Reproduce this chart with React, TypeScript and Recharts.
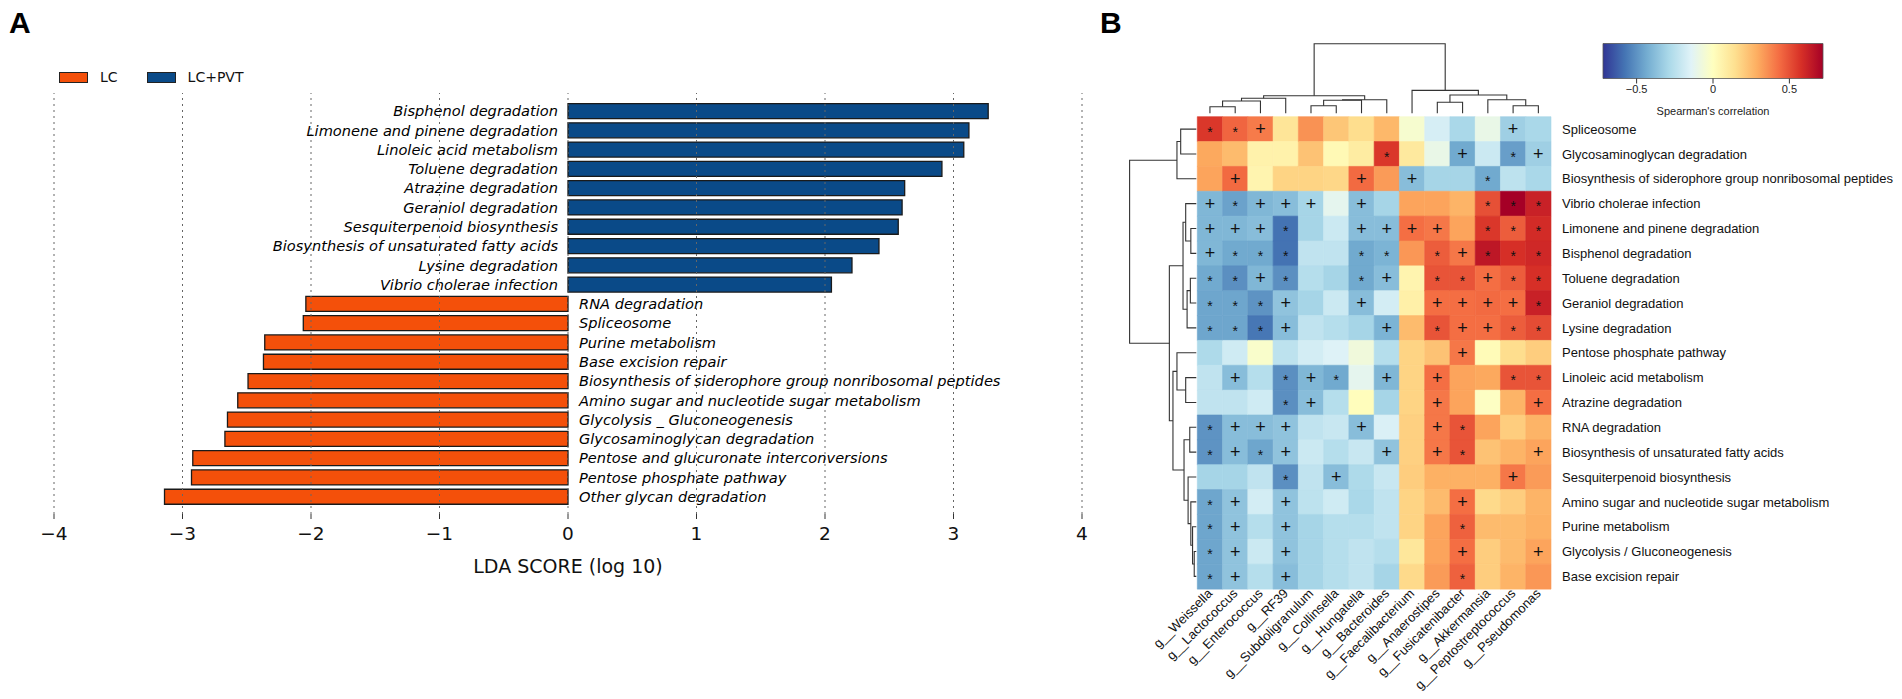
import React from "react";
import {
  BarChart,
  Bar,
  XAxis,
  YAxis,
  Cell,
  LabelList,
  ReferenceLine,
  Legend,
  ScatterChart,
  Scatter,
} from "recharts";

// ---------- panel A: LDA scores ----------
const ldaNames = [
  "Bisphenol degradation",
  "Limonene and pinene degradation",
  "Linoleic acid metabolism",
  "Toluene degradation",
  "Atrazine degradation",
  "Geraniol degradation",
  "Sesquiterpenoid biosynthesis",
  "Biosynthesis of unsaturated fatty acids",
  "Lysine degradation",
  "Vibrio cholerae infection",
  "RNA degradation",
  "Spliceosome",
  "Purine metabolism",
  "Base excision repair",
  "Biosynthesis of siderophore group nonribosomal peptides",
  "Amino sugar and nucleotide sugar metabolism",
  "Glycolysis _ Gluconeogenesis",
  "Glycosaminoglycan degradation",
  "Pentose and glucuronate interconversions",
  "Pentose phosphate pathway",
  "Other glycan degradation",
];
const ldaScores = [
  3.27, 3.12, 3.08, 2.91, 2.62, 2.6, 2.57, 2.42, 2.21, 2.05, -2.04, -2.06, -2.36,
  -2.37, -2.49, -2.57, -2.65, -2.67, -2.92, -2.93, -3.14,
];
const ldaTicks = [-4, -3, -2, -1, 0, 1, 2, 3, 4];
const groupNames = ["LC", "LC+PVT"];
const groupColors = ["#f4500a", "#0a4a88"];

// ---------- panel B: correlation heatmap ----------
const genera = [
  "g__Weissella",
  "g__Lactococcus",
  "g__Enterococcus",
  "g__RF39",
  "g__Subdoligranulum",
  "g__Collinsella",
  "g__Hungatella",
  "g__Bacteroides",
  "g__Faecalibacterium",
  "g__Anaerostipes",
  "g__Fusicatenibacter",
  "g__Akkermansia",
  "g__Peptostreptococcus",
  "g__Pseudomonas",
];
const pathways = [
  "Spliceosome",
  "Glycosaminoglycan degradation",
  "Biosynthesis of siderophore group nonribosomal peptides",
  "Vibrio cholerae infection",
  "Limonene and pinene degradation",
  "Bisphenol degradation",
  "Toluene degradation",
  "Geraniol degradation",
  "Lysine degradation",
  "Pentose phosphate pathway",
  "Linoleic acid metabolism",
  "Atrazine degradation",
  "RNA degradation",
  "Biosynthesis of unsaturated fatty acids",
  "Sesquiterpenoid biosynthesis",
  "Amino sugar and nucleotide sugar metabolism",
  "Purine metabolism",
  "Glycolysis / Gluconeogenesis",
  "Base excision repair",
];
const corr = [
  [0.56, 0.45, 0.4, 0.12, 0.35, 0.22, 0.15, 0.26, -0.04, -0.17, -0.29, -0.1, -0.32, -0.29],
  [0.3, 0.25, 0.06, 0.06, 0.23, 0.03, 0.09, 0.56, 0.1, -0.1, -0.44, -0.2, -0.47, -0.32],
  [0.31, 0.44, 0.05, 0.18, 0.18, 0.17, 0.44, 0.33, -0.38, -0.3, -0.3, -0.44, -0.24, -0.29],
  [-0.4, -0.46, -0.4, -0.38, -0.3, -0.12, -0.38, -0.3, 0.31, 0.31, 0.27, 0.5, 0.72, 0.62],
  [-0.4, -0.4, -0.38, -0.58, -0.3, -0.2, -0.38, -0.38, 0.43, 0.41, 0.31, 0.56, 0.47, 0.59],
  [-0.4, -0.44, -0.44, -0.58, -0.23, -0.23, -0.44, -0.41, 0.34, 0.47, 0.41, 0.65, 0.58, 0.6],
  [-0.44, -0.51, -0.4, -0.51, -0.26, -0.3, -0.44, -0.38, 0.05, 0.49, 0.49, 0.43, 0.47, 0.58],
  [-0.45, -0.45, -0.5, -0.36, -0.3, -0.2, -0.38, -0.18, 0.07, 0.43, 0.43, 0.44, 0.43, 0.62],
  [-0.45, -0.45, -0.57, -0.38, -0.23, -0.26, -0.3, -0.41, 0.25, 0.49, 0.43, 0.43, 0.47, 0.51],
  [-0.28, -0.19, -0.03, -0.24, -0.18, -0.15, -0.07, -0.26, 0.18, 0.23, 0.41, 0.02, 0.15, 0.2],
  [-0.23, -0.38, -0.26, -0.51, -0.4, -0.44, -0.12, -0.4, 0.18, 0.43, 0.31, 0.3, 0.49, 0.49],
  [-0.23, -0.23, -0.19, -0.51, -0.38, -0.26, 0.01, -0.3, 0.18, 0.41, 0.31, -0.01, 0.27, 0.43],
  [-0.5, -0.38, -0.38, -0.36, -0.23, -0.21, -0.38, -0.16, 0.19, 0.41, 0.49, 0.31, 0.2, 0.27],
  [-0.5, -0.38, -0.45, -0.36, -0.2, -0.26, -0.21, -0.36, 0.19, 0.41, 0.49, 0.23, 0.27, 0.31],
  [-0.3, -0.3, -0.23, -0.51, -0.23, -0.38, -0.28, -0.21, 0.2, 0.28, 0.28, 0.28, 0.41, 0.33],
  [-0.45, -0.36, -0.18, -0.36, -0.24, -0.19, -0.29, -0.23, 0.18, 0.25, 0.43, 0.16, 0.2, 0.27],
  [-0.45, -0.36, -0.26, -0.36, -0.3, -0.26, -0.26, -0.23, 0.18, 0.31, 0.46, 0.25, 0.25, 0.28],
  [-0.45, -0.36, -0.2, -0.36, -0.3, -0.26, -0.23, -0.26, 0.11, 0.31, 0.43, 0.2, 0.25, 0.31],
  [-0.45, -0.36, -0.26, -0.38, -0.3, -0.26, -0.23, -0.3, 0.16, 0.33, 0.46, 0.2, 0.27, 0.34],
];
// one character per genus: "*" significant, "+" trend, "." none
const sig = [
  "**+.........+.",
  ".......*..+.*+",
  ".+....+.+..*..",
  "+*+++.+....***",
  "+++*..++++.***",
  "+***..**.*+***",
  "**+*..*+.**+**",
  "***+..+..++++*",
  "***+...+.*++**",
  "..........+...",
  ".+.*+*.+.+..**",
  "...*+....+...+",
  "*+++..+..+*...",
  "*+*+...+.+*..+",
  "...*.+......+.",
  "*+.+......+...",
  "*+.+......*...",
  "*+.+......+..+",
  "*+.+......*...",
];
const corrLimit = 0.72;
const cbTicks = [-0.5, 0, 0.5];
const palette = [
  "#313695", "#4575b4", "#74add1", "#abd9e9", "#e0f3f8", "#ffffbf",
  "#fee090", "#fdae61", "#f46d43", "#d73027", "#a50026",
];

type Tree = number | { h: number; c: [Tree, Tree] };

const colTree: Tree = {
  h: 1,
  c: [
    {
      h: 0.253,
      c: [
        { h: 0.216, c: [{ h: 0.177, c: [{ h: 0.095, c: [0, 1] }, 2] }, 3] },
        { h: 0.195, c: [{ h: 0.187, c: [{ h: 0.109, c: [4, 5] }, 6] }, 7] },
      ],
    },
    {
      h: 0.33,
      c: [
        8,
        {
          h: 0.263,
          c: [
            { h: 0.158, c: [9, 10] },
            { h: 0.195, c: [11, { h: 0.109, c: [12, 13] }] },
          ],
        },
      ],
    },
  ],
};

const rowTree: Tree = {
  h: 1,
  c: [
    { h: 0.29, c: [{ h: 0.234, c: [0, 1] }, 2] },
    {
      h: 0.404,
      c: [
        {
          h: 0.199,
          c: [
            { h: 0.159, c: [3, { h: 0.082, c: [4, 5] }] },
            { h: 0.138, c: [{ h: 0.089, c: [6, 7] }, 8] },
          ],
        },
        {
          h: 0.35,
          c: [
            { h: 0.29, c: [9, { h: 0.159, c: [10, 11] }] },
            {
              h: 0.184,
              c: [
                { h: 0.098, c: [12, 13] },
                {
                  h: 0.123,
                  c: [14, { h: 0.082, c: [15, { h: 0.056, c: [16, { h: 0.031, c: [17, 18] }] }] }],
                },
              ],
            },
          ],
        },
      ],
    },
  ],
};

type Pt = { p: number; h: number };
function branches(t: Tree, out: Pt[][]): Pt {
  if (typeof t === "number") return { p: t + 0.5, h: 0 };
  const a = branches(t.c[0], out);
  const b = branches(t.c[1], out);
  out.push([a, { p: a.p, h: t.h }, { p: b.p, h: t.h }, b]);
  return { p: (a.p + b.p) / 2, h: t.h };
}

const colBranches: Pt[][] = [];
branches(colTree, colBranches);
const rowBranches: Pt[][] = [];
branches(rowTree, rowBranches);

function hexToRgb(h: string) {
  const n = parseInt(h.slice(1), 16);
  return [(n >> 16) & 255, (n >> 8) & 255, n & 255];
}
function corrColor(v: number) {
  const t = Math.max(0, Math.min(1, (v + corrLimit) / (2 * corrLimit))) * (palette.length - 1);
  const i = Math.min(palette.length - 2, Math.floor(t));
  const f = t - i;
  const a = hexToRgb(palette[i]);
  const b = hexToRgb(palette[i + 1]);
  const c = a.map((x, k) => Math.round(x + (b[k] - x) * f));
  return `rgb(${c[0]},${c[1]},${c[2]})`;
}

const fmtNum = (v: number) => (v < 0 ? "\u2212" + Math.abs(v) : String(v));

const ldaData = ldaNames.map((name, i) => ({ name, score: ldaScores[i] }));

const hmData = pathways.map((name, i) => {
  const row: Record<string, string | number> = { name };
  genera.forEach((_, j) => {
    row[`c${j}`] = 1;
    row[`s${j}`] = sig[i][j];
  });
  return row;
});

const LdaLegend = () => (
  <div style={{ display: "flex", alignItems: "center", fontFamily: "DejaVu Sans", fontSize: 14, color: "#111" }}>
    {groupNames.map((g, i) => (
      <div key={g} style={{ display: "flex", alignItems: "center", marginRight: 29 }}>
        <span
          style={{
            display: "inline-block",
            width: 27,
            height: 9,
            background: groupColors[i],
            border: "1px solid #222",
            marginRight: 12,
          }}
        />
        <span>{g}</span>
      </div>
    ))}
  </div>
);

const LdaLabel = (props: any) => {
  const { x, y, width, height, value } = props;
  const i = ldaNames.indexOf(value);
  const s = ldaScores[i];
  const bx = Number(x);
  const bw = Number(width);
  let zero: number;
  if (s > 0) zero = bw >= 0 ? bx : bx + bw;
  else zero = bw >= 0 ? bx + bw : bx;
  const cy = Number(y) + Number(height) / 2;
  return (
    <text
      x={s > 0 ? zero - 10 : zero + 11}
      y={cy}
      dy="0.36em"
      textAnchor={s > 0 ? "end" : "start"}
      fontFamily="DejaVu Sans"
      fontStyle="italic"
      fontSize={14.6}
      fill="#000"
    >
      {value}
    </text>
  );
};

const SigLabel = (props: any) => {
  const { x, y, width, height, value } = props;
  if (!value || value === ".") return null;
  const cx = Number(x) + Number(width) / 2;
  const cy = Number(y) + Number(height) / 2;
  const plus = value === "+";
  return (
    <text
      x={cx}
      y={cy + (plus ? 6 : 7.5)}
      textAnchor="middle"
      fontFamily="Liberation Sans"
      fontSize={plus ? 18 : 14}
      fill="#111"
    >
      {value}
    </text>
  );
};

const GenusTick = (props: any) => {
  const { x, y, payload } = props;
  const name = genera[Math.round(payload.value - 0.5)];
  return (
    <text
      x={x}
      y={y}
      dy="0.35em"
      transform={`rotate(-45 ${x} ${y})`}
      textAnchor="end"
      fontFamily="Liberation Sans"
      fontSize={13}
      fill="#111"
    >
      {name}
    </text>
  );
};

const PathwayTick = (props: any) => {
  const { x, y, payload } = props;
  return (
    <text x={x} y={y} dy="0.35em" textAnchor="start" fontFamily="Liberation Sans" fontSize={13} fill="#111">
      {payload.value}
    </text>
  );
};

const lineStyle = { stroke: "#333", strokeWidth: 1.1 };

export default function App() {
  return (
    <div style={{ position: "absolute", left: 0, top: 0, width: 1902, height: 699, background: "#fff", overflow: "hidden" }}>
      <div style={{ position: "absolute", left: 9, top: 6, fontFamily: "Liberation Sans", fontWeight: "bold", fontSize: 30 }}>A</div>
      <div style={{ position: "absolute", left: 1100, top: 6, fontFamily: "Liberation Sans", fontWeight: "bold", fontSize: 30 }}>B</div>

      <div style={{ position: "absolute", left: 0, top: 0 }}>
        <BarChart
          layout="vertical"
          width={1100}
          height={590}
          data={ldaData}
          margin={{ top: 93, right: 18, bottom: 10, left: 54 }}
          barCategoryGap="10%"
        >
          <XAxis
            type="number"
            domain={[-4, 4]}
            ticks={ldaTicks}
            tickFormatter={fmtNum}
            axisLine={false}
            tickSize={5}
            tickMargin={8}
            height={66}
            tick={{ fontSize: 18.5, fontFamily: "DejaVu Sans", fill: "#111" }}
            tickLine={{ stroke: "#333" }}
            label={{
              value: "LDA SCORE (log 10)",
              position: "insideBottom",
              offset: 7,
              fontSize: 19,
              fontFamily: "DejaVu Sans",
              fill: "#111",
            }}
          />
          <XAxis
            xAxisId="top"
            orientation="top"
            type="number"
            domain={[-4, 4]}
            ticks={ldaTicks}
            tickFormatter={() => ""}
            axisLine={false}
            mirror
            tickSize={4}
            height={0}
            tickLine={{ stroke: "#333" }}
          />
          <YAxis type="category" dataKey="name" hide padding={{ top: 8.6, bottom: 7.4 }} />
          <Legend
            layout="horizontal"
            verticalAlign="middle"
            align="center"
            wrapperStyle={{ top: 69, left: 59, width: "auto" }}
            content={() => <LdaLegend />}
          />
          <Bar dataKey="score" stroke="#1a1a1a" strokeWidth={1.3} isAnimationActive={false}>
            {ldaData.map((d) => (
              <Cell key={d.name} fill={d.score > 0 ? groupColors[1] : groupColors[0]} />
            ))}
            <LabelList dataKey="name" content={LdaLabel} />
          </Bar>
          {ldaTicks.map((t) => (
            <ReferenceLine key={t} x={t} stroke="#666" strokeDasharray="2 4" strokeWidth={1} />
          ))}
        </BarChart>
      </div>

      <div style={{ position: "absolute", left: 1100, top: 0 }}>
        <ScatterChart width={110} height={699} margin={{ top: 116.7, right: 13.7, bottom: 110.2, left: 29.6 }}>
          <XAxis type="number" dataKey="x" domain={[0, 1]} reversed hide />
          <YAxis type="number" dataKey="y" domain={[0, 19]} reversed hide />
          {rowBranches.map((b, k) => (
            <Scatter
              key={k}
              data={b.map((q) => ({ x: q.h, y: q.p }))}
              line={lineStyle}
              shape={() => null}
              isAnimationActive={false}
            />
          ))}
        </ScatterChart>
      </div>

      <div style={{ position: "absolute", left: 1100, top: 0 }}>
        <ScatterChart width={802} height={120} margin={{ top: 43.7, right: 351, bottom: 6.7, left: 97.3 }}>
          <XAxis type="number" dataKey="x" domain={[0, 14]} hide />
          <YAxis type="number" dataKey="y" domain={[0, 1]} hide />
          {colBranches.map((b, k) => (
            <Scatter
              key={k}
              data={b.map((q) => ({ x: q.p, y: q.h }))}
              line={lineStyle}
              shape={() => null}
              isAnimationActive={false}
            />
          ))}
        </ScatterChart>
      </div>

      <div style={{ position: "absolute", left: 1100, top: 0 }}>
        <BarChart
          layout="vertical"
          width={802}
          height={699}
          data={hmData}
          margin={{ top: 116.7, right: 6, bottom: 5, left: 97.3 }}
          barCategoryGap={0}
          barGap={0}
        >
          <XAxis
            type="number"
            domain={[0, 14]}
            ticks={genera.map((_, j) => j + 0.5)}
            interval={0}
            tick={<GenusTick />}
            tickLine={false}
            axisLine={false}
            tickSize={0}
            tickMargin={2}
            height={105}
          />
          <YAxis
            type="category"
            dataKey="name"
            orientation="right"
            width={345}
            interval={0}
            tickLine={false}
            axisLine={false}
            tickSize={0}
            tickMargin={11}
            tick={<PathwayTick />}
          />
          {genera.map((g, j) => (
            <Bar key={g} dataKey={`c${j}`} stackId="hm" isAnimationActive={false}>
              {pathways.map((p, i) => (
                <Cell key={p} fill={corrColor(corr[i][j])} stroke={corrColor(corr[i][j])} strokeWidth={0.6} />
              ))}
              <LabelList dataKey={`s${j}`} content={SigLabel} />
            </Bar>
          ))}
        </BarChart>
      </div>

      <div style={{ position: "absolute", left: 1560, top: 0 }}>
        <BarChart
          layout="vertical"
          width={320}
          height={130}
          data={[{ name: "corr", range: [-corrLimit, corrLimit] }]}
          margin={{ top: 43.5, right: 57, bottom: 6.5, left: 43 }}
          barCategoryGap={0}
        >
          <defs>
            <linearGradient id="cbGrad" x1="0" y1="0" x2="1" y2="0">
              {palette.map((c, i) => (
                <stop key={c} offset={i / (palette.length - 1)} stopColor={c} />
              ))}
            </linearGradient>
          </defs>
          <XAxis
            type="number"
            domain={[-corrLimit, corrLimit]}
            ticks={cbTicks}
            tickFormatter={fmtNum}
            axisLine={false}
            tickSize={5}
            tickMargin={2}
            height={45}
            tickLine={{ stroke: "#333" }}
            tick={{ fontSize: 11, fill: "#222", fontFamily: "Liberation Sans" }}
            label={{
              value: "Spearman's correlation",
              position: "insideBottom",
              offset: 9,
              fontSize: 11,
              fill: "#222",
              fontFamily: "Liberation Sans",
            }}
          />
          <YAxis type="category" dataKey="name" hide />
          <Bar dataKey="range" fill="url(#cbGrad)" stroke="#555" strokeWidth={0.8} isAnimationActive={false} />
        </BarChart>
      </div>
    </div>
  );
}
